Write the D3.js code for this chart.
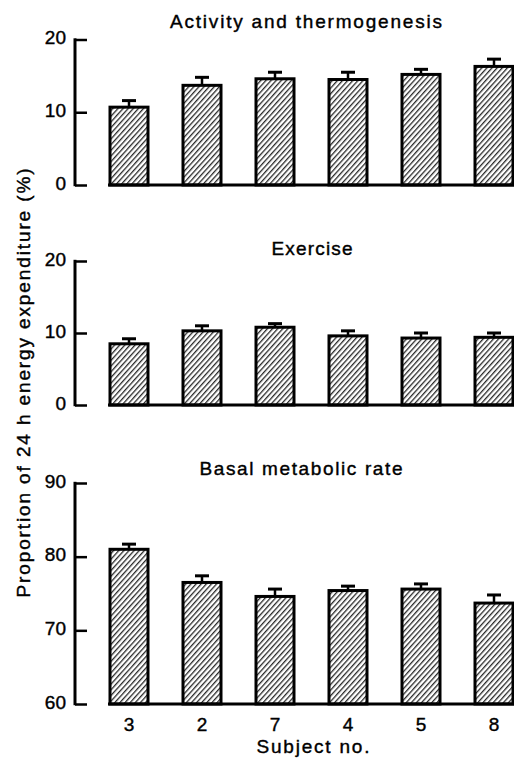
<!DOCTYPE html>
<html>
<head>
<meta charset="utf-8">
<script src="https://cdn.jsdelivr.net/npm/d3@7"></script>
<style>
  html, body { margin: 0; padding: 0; background: #fff; }
  svg { display: block; }
  text { font-family: "Liberation Sans", Arial, Helvetica, sans-serif; fill: #000; stroke: #000; stroke-width: 0.4px; }
</style>
</head>
<body>
<svg id="chart" width="514" height="758"></svg>
<script>
// ---- data ----
const subjects = ["3", "2", "7", "4", "5", "8"];
const activityMean = [10.7, 13.7, 14.6, 14.5, 15.2, 16.3];
const activityErr  = [11.6, 14.8, 15.5, 15.5, 15.9, 17.3];
const exerciseMean = [8.5, 10.3, 10.8, 9.6, 9.3, 9.4];
const exerciseErr  = [9.2, 11.0, 11.3, 10.3, 10.0, 10.0];
const bmrMean = [81.0, 76.5, 74.6, 75.4, 75.6, 73.7];
const bmrErr  = [81.7, 77.4, 75.6, 76.0, 76.3, 74.8];
const ticksSmall = [0, 10, 20];
const ticksBmr = [60, 70, 80, 90];
const titles = ["Activity and thermogenesis", "Exercise", "Basal metabolic rate"];
const xTitle = "Subject no.";
const yTitle = "Proportion of 24 h energy expenditure (%)";

const svg = d3.select("#chart");

// hatch pattern
const defs = svg.append("defs");
const pat = defs.append("pattern")
  .attr("id", "hatch")
  .attr("patternUnits", "userSpaceOnUse")
  .attr("width", 3.8).attr("height", 10)
  .attr("patternTransform", "rotate(42)");
pat.append("rect").attr("width", 3.8).attr("height", 10).attr("fill", "#fff");
pat.append("line").attr("x1", 0.7).attr("x2", 0.7).attr("y1", 0).attr("y2", 10)
  .attr("stroke", "#000").attr("stroke-width", 1.1);

const x = d3.scalePoint().domain(subjects).range([129, 494]);
const barW = 38;
const axisX = 75;

const panels = [
  { title: titles[0], mean: activityMean, err: activityErr, domain: [0, 20], range: [185, 39.5], ticks: ticksSmall, tx: 306, ty: 28 },
  { title: titles[1], mean: exerciseMean, err: exerciseErr, domain: [0, 20], range: [405, 261], ticks: ticksSmall, tx: 312, ty: 255 },
  { title: titles[2], mean: bmrMean, err: bmrErr, domain: [60, 90], range: [704, 483], ticks: ticksBmr, tx: 301, ty: 475 }
];
const titleLen = [272, 81, 203];

panels.forEach((p, pi) => {
  const y = d3.scaleLinear().domain(p.domain).range(p.range);
  const g = svg.append("g");

  // y axis
  const ax = g.append("g").attr("transform", `translate(${axisX},0)`)
    .call(d3.axisRight(y).tickValues(p.ticks).tickSize(12).tickFormat(""));
  ax.select(".domain").remove();
  ax.selectAll(".tick line").attr("stroke", "#000").attr("stroke-width", 2.5);
  g.append("line")
    .attr("x1", axisX).attr("x2", axisX)
    .attr("y1", y(p.domain[1]) - 1.2).attr("y2", y(p.domain[0]) + 1.2)
    .attr("stroke", "#000").attr("stroke-width", 3);
  // tick labels
  g.selectAll("text.tl").data(p.ticks).join("text")
    .attr("class", "tl")
    .attr("x", 66).attr("y", d => y(d) - 2)
    .attr("dy", "0.35em")
    .attr("text-anchor", "end")
    .style("font-size", "19px")
    .text(d => d);

  // bars
  const base = y(p.domain[0]);
  g.selectAll("rect.bar").data(subjects).join("rect")
    .attr("class", "bar")
    .attr("x", d => x(d) - barW / 2)
    .attr("width", barW)
    .attr("y", (d, i) => y(p.mean[i]))
    .attr("height", (d, i) => base - y(p.mean[i]))
    .attr("fill", "url(#hatch)")
    .attr("stroke", "#000").attr("stroke-width", 3);

  // error bars
  g.selectAll("line.eb").data(subjects).join("line")
    .attr("class", "eb")
    .attr("x1", d => x(d)).attr("x2", d => x(d))
    .attr("y1", (d, i) => y(p.mean[i])).attr("y2", (d, i) => y(p.err[i]))
    .attr("stroke", "#000").attr("stroke-width", 2.5);
  g.selectAll("line.cap").data(subjects).join("line")
    .attr("class", "cap")
    .attr("x1", d => x(d) - 7).attr("x2", d => x(d) + 7)
    .attr("y1", (d, i) => y(p.err[i])).attr("y2", (d, i) => y(p.err[i]))
    .attr("stroke", "#000").attr("stroke-width", 3);

  // baseline
  g.append("line")
    .attr("x1", 108).attr("x2", 514)
    .attr("y1", base).attr("y2", base)
    .attr("stroke", "#000").attr("stroke-width", 3);

  // title
  g.append("text")
    .attr("x", p.tx).attr("y", p.ty)
    .attr("text-anchor", "middle")
    .attr("textLength", titleLen[pi]).attr("lengthAdjust", "spacing")
    .style("font-size", "19px")
    .text(p.title);
});

// x tick labels
svg.selectAll("text.xl").data(subjects).join("text")
  .attr("class", "xl")
  .attr("x", d => x(d)).attr("y", 731)
  .attr("text-anchor", "middle")
  .style("font-size", "19px")
  .text(d => d);

svg.append("text")
  .attr("x", 313).attr("y", 753)
  .attr("text-anchor", "middle")
  .attr("textLength", 113).attr("lengthAdjust", "spacing")
  .style("font-size", "19px")
  .text(xTitle);

svg.append("text")
  .attr("transform", "translate(30,383) rotate(-90)")
  .attr("text-anchor", "middle")
  .attr("textLength", 429).attr("lengthAdjust", "spacing")
  .style("font-size", "19px")
  .text(yTitle);
</script>
</body>
</html>
